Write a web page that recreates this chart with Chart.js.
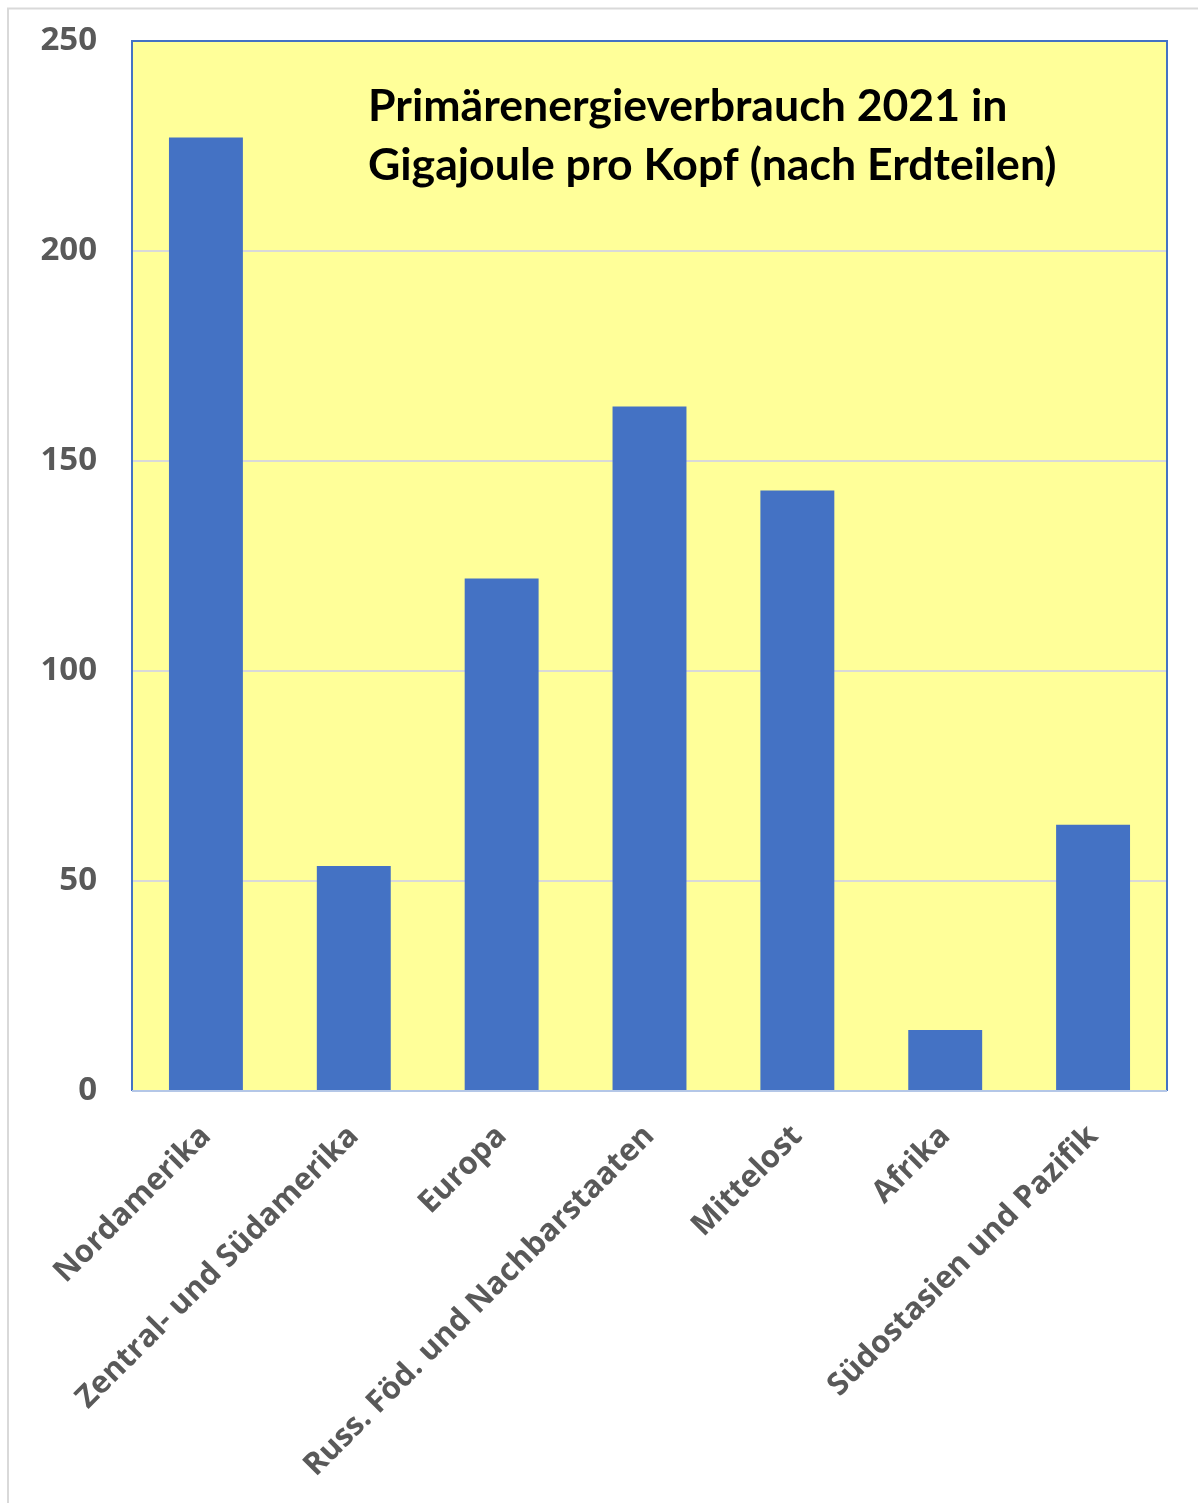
<!DOCTYPE html>
<html>
<head>
<meta charset="utf-8">
<style>
  html, body { margin: 0; padding: 0; background: #ffffff; }
  #wrap { width: 1198px; height: 1503px; position: relative; }
  canvas { display: block; }
</style>
<script src="https://cdn.jsdelivr.net/npm/chart.js@4/dist/chart.umd.min.js"></script>
</head>
<body>
<div id="wrap"><canvas id="c" width="1198" height="1503"></canvas></div>
<script>
const categories = [
  "Nordamerika",
  "Zentral- und Südamerika",
  "Europa",
  "Russ. Föd. und Nachbarstaaten",
  "Mittelost",
  "Afrika",
  "Südostasien und Pazifik"
];
const values = [227, 53.6, 122, 163, 143, 14.5, 63.4];
const titleLines = ["Primärenergieverbrauch 2021 in", "Gigajoule pro Kopf (nach Erdteilen)"];
const yMin = 0, yMax = 250, yStep = 50;

const decorPlugin = {
  id: 'decor',
  beforeDraw(chart) {
    const ctx = chart.ctx, a = chart.chartArea;
    ctx.save();
    ctx.fillStyle = '#ffffff';
    ctx.fillRect(0, 0, chart.width, chart.height);
    ctx.strokeStyle = '#d9d9d9';
    ctx.lineWidth = 2;
    ctx.strokeRect(8, 8.5, chart.width + 20, chart.height + 20);
    ctx.fillStyle = '#ffff99';
    ctx.fillRect(a.left, a.top, a.right - a.left, a.bottom - a.top);
    ctx.restore();
  },
  afterDraw(chart) {
    const ctx = chart.ctx, a = chart.chartArea;
    ctx.save();
    ctx.strokeStyle = '#4472c4';
    ctx.lineWidth = 2;
    ctx.beginPath();
    ctx.moveTo(a.left, a.bottom);
    ctx.lineTo(a.left, a.top);
    ctx.lineTo(a.right, a.top);
    ctx.lineTo(a.right, a.bottom);
    ctx.stroke();
    ctx.strokeStyle = '#b4c7e7';
    ctx.beginPath();
    ctx.moveTo(a.left, a.bottom);
    ctx.lineTo(a.right, a.bottom);
    ctx.stroke();
    ctx.fillStyle = '#000000';
    ctx.textAlign = 'left';
    ctx.textBaseline = 'alphabetic';
    let size = 40;
    const fam = 'Lato, "Open Sans", sans-serif';
    ctx.font = 'bold ' + size + 'px ' + fam;
    const w = ctx.measureText(titleLines[0]).width;
    size = size * 640 / w;
    ctx.font = 'bold ' + size.toFixed(1) + 'px ' + fam;
    ctx.fillText(titleLines[0], 368, 121);
    ctx.fillText(titleLines[1], 368, 180);
    ctx.restore();
  }
};

new Chart(document.getElementById('c'), {
  type: 'bar',
  data: {
    labels: categories,
    datasets: [{
      data: values,
      backgroundColor: '#4472c4',
      borderWidth: 0,
      barPercentage: 0.5,
      categoryPercentage: 1.0
    }]
  },
  options: {
    responsive: false,
    devicePixelRatio: 1,
    animation: false,
    layout: { autoPadding: false, padding: { left: 0, top: 41, right: 31, bottom: 0 } },
    plugins: { legend: { display: false }, title: { display: false }, tooltip: { enabled: false } },
    scales: {
      x: {
        offset: true,
        grid: { display: false, drawTicks: false },
        border: { display: false },
        ticks: {
          autoSkip: false,
          minRotation: 45,
          maxRotation: 45,
          padding: 27,
          color: '#595959',
          font: { family: '"Open Sans", sans-serif', size: 31, weight: 'bold' }
        },
        afterFit(scale) {
          scale.height = 1503 - 41 - 1050;
          scale.paddingLeft = 0; scale.paddingRight = 0;
        }
      },
      y: {
        min: yMin,
        max: yMax,
        grid: { color: '#d9d9d9', lineWidth: 2, drawTicks: false },
        border: { display: false },
        ticks: {
          stepSize: yStep,
          padding: 35,
          color: '#595959',
          font: { family: '"Open Sans", sans-serif', size: 33, weight: 'bold' }
        },
        afterFit(scale) {
          scale.width = 132;
          scale.paddingTop = 0; scale.paddingBottom = 0;
        }
      }
    }
  },
  plugins: [decorPlugin]
});
</script>
</body>
</html>
